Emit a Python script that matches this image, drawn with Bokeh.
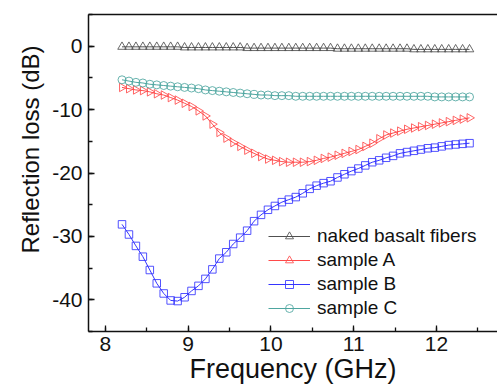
import math
from bokeh.plotting import figure
from bokeh.models import (Legend, LegendItem, SingleIntervalTicker, Range1d,
                          LinearAxis, FixedTicker, Title, PrintfTickFormatter)
from bokeh.embed import file_html
from bokeh.resources import INLINE

freq = [8.200, 8.284, 8.368, 8.452, 8.536, 8.620, 8.704, 8.788, 8.872, 8.956,
        9.040, 9.124, 9.208, 9.292, 9.376, 9.460, 9.544, 9.628, 9.712, 9.796,
        9.880, 9.964, 10.048, 10.132, 10.216, 10.300, 10.384, 10.468, 10.552, 10.636,
        10.720, 10.804, 10.888, 10.972, 11.056, 11.140, 11.224, 11.308, 11.392, 11.476,
        11.560, 11.644, 11.728, 11.812, 11.896, 11.980, 12.064, 12.148, 12.232, 12.316,
        12.400]

naked = [-0.1, -0.1, -0.1, -0.1, -0.1, -0.1, -0.1, -0.1, -0.1, -0.2,
         -0.2, -0.2, -0.2, -0.2, -0.2, -0.2, -0.2, -0.2, -0.3, -0.3,
         -0.3, -0.3, -0.3, -0.3, -0.3, -0.3, -0.3, -0.3, -0.3, -0.3,
         -0.3, -0.4, -0.4, -0.4, -0.4, -0.4, -0.4, -0.4, -0.4, -0.4,
         -0.4, -0.4, -0.5, -0.5, -0.5, -0.5, -0.5, -0.5, -0.5, -0.5,
         -0.5]

sample_a = [-6.5, -6.7, -6.9, -7.0, -7.2, -7.5, -7.7, -8.1, -8.5, -9.0,
            -9.5, -10.2, -11.0, -12.3, -13.6, -14.5, -15.2, -15.8, -16.4, -16.9,
            -17.4, -17.8, -18.0, -18.2, -18.3, -18.3, -18.3, -18.2, -18.0, -17.7,
            -17.5, -17.2, -16.9, -16.6, -16.3, -15.8, -15.3, -14.6, -14.0, -13.7,
            -13.4, -13.1, -12.9, -12.7, -12.5, -12.3, -12.1, -11.9, -11.7, -11.5,
            -11.3]

sample_b = [-28.1, -29.7, -31.5, -33.2, -35.3, -37.4, -39.0, -40.1, -40.2, -39.6,
            -38.6, -37.8, -36.7, -35.2, -33.5, -32.5, -31.2, -30.2, -29.1, -27.6,
            -26.6, -25.8, -25.2, -24.6, -24.2, -23.8, -23.2, -22.5, -22.0, -21.6,
            -21.3, -20.7, -20.2, -19.7, -19.3, -18.8, -18.3, -18.0, -17.6, -17.3,
            -16.9, -16.7, -16.5, -16.3, -16.1, -16.0, -15.8, -15.6, -15.5, -15.4,
            -15.3]

sample_c = [-5.3, -5.5, -5.7, -5.8, -6.0, -6.1, -6.2, -6.3, -6.4, -6.5,
            -6.6, -6.7, -6.9, -7.0, -7.1, -7.2, -7.3, -7.4, -7.5, -7.6,
            -7.7, -7.7, -7.8, -7.8, -7.8, -7.9, -7.9, -7.9, -7.9, -7.9,
            -7.9, -7.9, -7.9, -7.9, -7.9, -7.9, -7.9, -7.9, -7.9, -7.9,
            -7.9, -7.9, -7.9, -7.9, -7.9, -8.0, -8.0, -8.0, -8.0, -8.0,
            -8.0]

labels = ["naked basalt fibers", "sample A", "sample B", "sample C"]
x_title = "Frequency (GHz)"
y_title = "Reflection loss (dB)"
FONT = "Liberation Sans"
INK = "#111111"

p = figure(frame_width=409, frame_height=317, output_backend="svg",
           toolbar_location=None,
           x_range=Range1d(7.795, 12.738), y_range=Range1d(-45, 5),
           min_border_left=88, min_border_right=0, min_border_top=14,
           min_border_bottom=0)
p.outline_line_color = None
p.xgrid.visible = False
p.ygrid.visible = False
p.background_fill_color = "white"
p.border_fill_color = "white"

for ax in (p.xaxis[0], p.yaxis[0]):
    ax.axis_line_width = 1.5
    ax.axis_line_color = INK
    ax.major_tick_in = 6
    ax.major_tick_out = 0
    ax.minor_tick_in = 4
    ax.minor_tick_out = 0
    ax.major_tick_line_width = 1.3
    ax.minor_tick_line_width = 1.3
    ax.major_tick_line_color = INK
    ax.minor_tick_line_color = INK
    ax.major_label_text_font = FONT
    ax.major_label_text_font_size = "21px"
    ax.major_label_text_color = INK

p.xaxis.ticker = SingleIntervalTicker(interval=1, num_minor_ticks=2)
p.yaxis.ticker = SingleIntervalTicker(interval=10, num_minor_ticks=2)
p.yaxis.formatter = PrintfTickFormatter(format="%d")
p.xaxis.axis_label = x_title
p.xaxis.axis_label_text_font = FONT
p.xaxis.axis_label_text_font_size = "27px"
p.xaxis.axis_label_text_font_style = "normal"
p.xaxis.axis_label_text_color = INK
p.xaxis.major_label_standoff = 5
p.xaxis.axis_label_standoff = 0
p.yaxis.major_label_standoff = 6

top_axis = LinearAxis(ticker=FixedTicker(ticks=[]), axis_line_width=1.5,
                      axis_line_color=INK, major_tick_line_color=None,
                      minor_tick_line_color=None, major_label_text_font_size="0px",
                      major_label_standoff=0)
p.add_layout(top_axis, "above")

ytitle = Title(text=y_title, align="left", offset=78, standoff=12,
               text_font=FONT, text_font_size="24px", text_font_style="normal",
               text_color=INK)
p.add_layout(ytitle, "left")

colors = ["#505050", "#ff4a4a", "#3535ff", "#4ea6a0"]
series = [naked, sample_a, sample_b, sample_c]
markers = ["triangle", "triangle", "square", "circle"]
angles = [0, -math.pi / 2, 0, 0]
sizes = [8.5, 8.5, 7.5, 8]

items = []
for lab, ys, col, mk, ang, sz in zip(labels, series, colors, markers, angles, sizes):
    ln = p.line(freq, ys, line_color=col, line_width=1)
    sc = p.scatter(freq, ys, marker=mk, angle=ang, size=sz, line_color=col,
                   fill_color=None, line_width=1, line_alpha=0.85)
    items.append(LegendItem(label=lab, renderers=[ln, sc]))

legend = Legend(items=items, location=(180, 12), padding=0, margin=0,
                spacing=2, glyph_width=42, glyph_height=20, label_standoff=7,
                label_text_font=FONT, label_text_font_size="19px",
                label_text_color=INK, background_fill_alpha=0,
                border_line_color=None)
p.add_layout(legend)

open("out.html", "w").write(file_html(p, INLINE))
